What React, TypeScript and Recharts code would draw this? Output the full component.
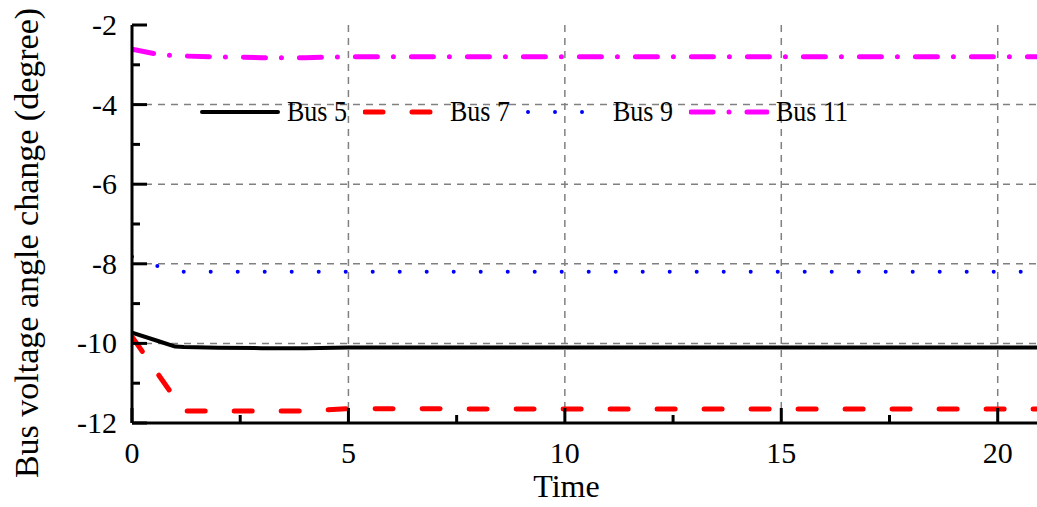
import { LineChart, Line, XAxis, YAxis, CartesianGrid, Legend } from 'recharts';

const time = [0, 0.6, 1, 1.2, 2, 3, 4, 5, 10, 15, 21];
const bus5 = [-9.73, -9.94, -10.08, -10.09, -10.11, -10.12, -10.12, -10.1, -10.1, -10.1, -10.1];
const bus7 = [-9.83, -10.77, -11.39, -11.7, -11.7, -11.7, -11.7, -11.64, -11.65, -11.65, -11.65];
const bus9 = [-7.82, -8.06, -8.15, -8.2, -8.2, -8.2, -8.2, -8.2, -8.2, -8.2, -8.2];
const bus11 = [-2.61, -2.74, -2.77, -2.78, -2.8, -2.82, -2.82, -2.8, -2.8, -2.8, -2.8];

const xDomain = [0, 21];
const yDomain = [-12, -2];
const xTicks = [0, 2.5, 5, 7.5, 10, 12.5, 15, 17.5, 20];
const yTicks = [-12, -11, -10, -9, -8, -7, -6, -5, -4, -3, -2];
const xGrid = [5, 10, 15, 20];
const yGrid = [-10, -8, -6, -4];

const data = time.map((t, i) => ({
  time: t,
  bus5: bus5[i],
  bus7: bus7[i],
  bus9: bus9[i],
  bus11: bus11[i],
}));

const series = [
  { key: 'bus5', name: 'Bus 5', color: '#000000', width: 4, dash: undefined },
  { key: 'bus7', name: 'Bus 7', color: '#ff0000', width: 5, dash: '18 29' },
  { key: 'bus9', name: 'Bus 9', color: '#0000ff', width: 4, dash: '0 27' },
  { key: 'bus11', name: 'Bus 11', color: '#ff00ff', width: 5, dash: '22 16 0 18' },
];

const FONT = '"Liberation Serif", "Times New Roman", serif';

// ticks point inward; tickSize/tickMargin are 0 so (x, y) sits on the axis line
function makeTick(side: 'bottom' | 'top' | 'left' | 'right') {
  return (props: any) => {
    const { x, y, payload } = props;
    const v = payload.value;
    const major = side === 'bottom' || side === 'top' ? v % 5 === 0 : v % 2 === 0;
    const len = major ? 15 : 8;
    let x2 = x;
    let y2 = y;
    if (side === 'bottom') y2 = y - len;
    if (side === 'top') y2 = y + len;
    if (side === 'left') x2 = x + len;
    if (side === 'right') x2 = x - len;
    return (
      <g>
        <line x1={x} y1={y} x2={x2} y2={y2} stroke="#000" strokeWidth={3} />
        {major && side === 'bottom' && (
          <text x={x} y={y + 40} textAnchor="middle" fontSize={30} fontFamily={FONT} style={{ fontFamily: FONT }} fill="#000">
            {v}
          </text>
        )}
        {major && side === 'left' && (
          <text x={x - 15} y={y + 10} textAnchor="end" fontSize={30} fontFamily={FONT} style={{ fontFamily: FONT }} fill="#000">
            {v}
          </text>
        )}
      </g>
    );
  };
}

function LegendBox() {
  return (
    <div style={{ display: 'flex', fontFamily: FONT, fontSize: 26, color: '#000' }}>
      {series.map((s) => (
        <div key={s.key} style={{ display: 'flex', alignItems: 'center', width: 163 }}>
          <svg width={80} height={12} style={{ flex: 'none' }}>
            <line
              x1={2}
              y1={6}
              x2={78}
              y2={6}
              stroke={s.color}
              strokeWidth={s.width}
              strokeDasharray={s.dash}
              strokeLinecap="round"
            />
          </svg>
          <span style={{ marginLeft: 7, lineHeight: '26px', display: 'inline-block', transform: 'scaleY(1.15)', whiteSpace: 'nowrap' }}>
            {s.name}
          </span>
        </div>
      ))}
    </div>
  );
}

// grid only at the major ticks, mapped through the plot box
const gridY = ({ offset }: any) =>
  yGrid.map((v) => offset.top + ((yDomain[1] - v) / (yDomain[1] - yDomain[0])) * offset.height);
const gridX = ({ offset }: any) =>
  xGrid.map((v) => offset.left + ((v - xDomain[0]) / (xDomain[1] - xDomain[0])) * offset.width);

export default function App() {
  return (
    <div style={{ position: 'absolute', left: 0, top: 0, width: 1037, height: 507, overflow: 'hidden', background: '#fff' }}>
      <LineChart width={1041} height={507} data={data} margin={{ top: 25, right: 0, bottom: 0, left: 0 }}>
        <CartesianGrid
          stroke="#808080"
          strokeWidth={1.5}
          strokeDasharray="7 6"
          horizontalCoordinatesGenerator={gridY}
          verticalCoordinatesGenerator={gridX}
        />
        <XAxis
          dataKey="time"
          type="number"
          domain={xDomain}
          ticks={xTicks}
          interval={0}
          height={84}
          tickSize={0}
          tickMargin={0}
          tickLine={false}
          axisLine={{ stroke: '#000', strokeWidth: 3 }}
          tick={makeTick('bottom')}
          allowDataOverflow
          label={{
            content: ({ viewBox }: any) => (
              <text
                x={viewBox.x + viewBox.width / 2 - 20}
                y={viewBox.y + 74}
                textAnchor="middle"
                fontSize={32}
                fontFamily={FONT}
                fill="#000"
              >
                Time
              </text>
            ),
          }}
        />
        <XAxis
          xAxisId="top"
          orientation="top"
          type="number"
          dataKey="time"
          domain={xDomain}
          ticks={xTicks}
          interval={0}
          height={0}
          tickSize={0}
          tickMargin={0}
          tickLine={false}
          axisLine={{ stroke: '#000', strokeWidth: 3 }}
          tick={makeTick('top')}
          allowDataOverflow
        />
        <YAxis
          domain={yDomain}
          ticks={yTicks}
          interval={0}
          width={132}
          tickSize={0}
          tickMargin={0}
          tickLine={false}
          axisLine={{ stroke: '#000', strokeWidth: 3 }}
          tick={makeTick('left')}
          allowDataOverflow
          label={{
            content: ({ viewBox }: any) => {
              const cx = viewBox.x + 26;
              const cy = viewBox.y + viewBox.height / 2 + 19;
              return (
                <text
                  x={cx}
                  y={cy}
                  transform={`rotate(-90 ${cx} ${cy})`}
                  textAnchor="middle"
                  dominantBaseline="central"
                  fontSize={34}
                  fontFamily={FONT}
                  fill="#000"
                >
                  Bus voltage angle change (degree)
                </text>
              );
            },
          }}
        />
        <YAxis
          yAxisId="right"
          orientation="right"
          domain={yDomain}
          ticks={yTicks}
          interval={0}
          width={0}
          tickSize={0}
          tickMargin={0}
          tickLine={false}
          axisLine={{ stroke: '#000', strokeWidth: 3 }}
          tick={makeTick('right')}
          allowDataOverflow
        />
        <Legend
          verticalAlign="middle"
          align="center"
          content={() => <LegendBox />}
          wrapperStyle={{ position: 'absolute', left: 200, top: 99, width: 700 }}
        />
        {series.map((s) => (
          <Line
            key={s.key}
            dataKey={s.key}
            name={s.name}
            stroke={s.color}
            strokeWidth={s.width}
            strokeDasharray={s.dash}
            strokeLinecap="round"
            strokeLinejoin="round"
            dot={false}
            activeDot={false}
            isAnimationActive={false}
          />
        ))}
      </LineChart>
    </div>
  );
}
